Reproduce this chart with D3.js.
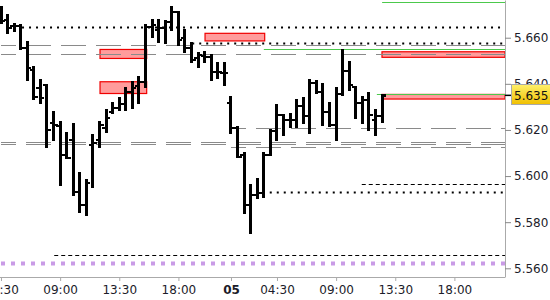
<!DOCTYPE html>
<html>
<head>
<meta charset="utf-8">
<script src="https://cdn.jsdelivr.net/npm/d3@7"></script>
<style>
  html, body { margin: 0; padding: 0; background: #fff; overflow: hidden; }
  svg { display: block; font-family: "DejaVu Sans", sans-serif; }
</style>
</head>
<body>
<div id="chart"></div>
<script>
// 30 minute OHLC bars, one per slot (slot 0 = 04:30 on the 4th, slot 35 = first bar of the 5th)
let opens = [
  5.6720, 5.6676, 5.6650, 5.6650, 5.6555, 5.6459, 5.6381, 5.6394, 5.6230, 5.6217,
  5.6091, 5.6156, 5.5930, 5.5874, 5.6134, 5.6156, 5.6208, 5.6277, 5.6295, 5.6312,
  5.6364, 5.6390, 5.6407, 5.6646, 5.6633, 5.6642, 5.6668, 5.6711, 5.6598, 5.6555,
  5.6512, 5.6520, 5.6516, 5.6451, 5.6446,
  5.6316, 5.6208, 5.6091, 5.5874, 5.5917, 5.5926, 5.6091, 5.6195, 5.6264, 5.6243,
  5.6243, 5.6303, 5.6260, 5.6403, 5.6364, 5.6277, 5.6221, 5.6355, 5.6455, 5.6386,
  5.6316, 5.6329, 5.6243, 5.6260],
highs = [
  5.6733, 5.6698, 5.6659, 5.6655, 5.6581, 5.6472, 5.6416, 5.6394, 5.6277, 5.6234,
  5.6186, 5.6225, 5.6013, 5.5982, 5.6178, 5.6234, 5.6286, 5.6316, 5.6338, 5.6381,
  5.6407, 5.6429, 5.6655, 5.6676, 5.6676, 5.6672, 5.6733, 5.6711, 5.6633, 5.6577,
  5.6533, 5.6538, 5.6525, 5.6490, 5.6490,
  5.6342, 5.6212, 5.6099, 5.5961, 5.5987, 5.6099, 5.6199, 5.6308, 5.6264, 5.6269,
  5.6329, 5.6338, 5.6416, 5.6412, 5.6399, 5.6316, 5.6381, 5.6546, 5.6494, 5.6386,
  5.6342, 5.6360, 5.6286, 5.6351],
lows = [
  5.6663, 5.6620, 5.6629, 5.6551, 5.6416, 5.6334, 5.6316, 5.6126, 5.6156, 5.5961,
  5.6078, 5.5917, 5.5844, 5.5831, 5.5952, 5.6126, 5.6191, 5.6273, 5.6286, 5.6286,
  5.6295, 5.6316, 5.6386, 5.6603, 5.6581, 5.6577, 5.6633, 5.6568, 5.6538, 5.6494,
  5.6472, 5.6494, 5.6416, 5.6425, 5.6394,
  5.6186, 5.6082, 5.5839, 5.5753, 5.5904, 5.5909, 5.6091, 5.6156, 5.6178, 5.6212,
  5.6212, 5.6230, 5.6186, 5.6360, 5.6221, 5.6217, 5.6156, 5.6351, 5.6373, 5.6251,
  5.6230, 5.6199, 5.6178, 5.6234],
closes = [
  5.6672, 5.6642, 5.6650, 5.6555, 5.6468, 5.6342, 5.6338, 5.6199, 5.6221, 5.6091,
  5.6078, 5.5930, 5.5874, 5.5969, 5.6143, 5.6221, 5.6251, 5.6295, 5.6312, 5.6364,
  5.6381, 5.6407, 5.6646, 5.6655, 5.6642, 5.6668, 5.6711, 5.6590, 5.6555, 5.6503,
  5.6525, 5.6516, 5.6451, 5.6451, 5.6446,
  5.6208, 5.6082, 5.5874, 5.5917, 5.5926, 5.6091, 5.6195, 5.6264, 5.6243, 5.6243,
  5.6303, 5.6260, 5.6403, 5.6364, 5.6277, 5.6221, 5.6355, 5.6455, 5.6394, 5.6316,
  5.6329, 5.6264, 5.6260, 5.6350];

// time axis labels: [slot, text]
let timeTicks = [[0, '04:30'], [9, '09:00'], [18, '13:30'], [27, '18:00'],
  [42, '04:30'], [51, '09:00'], [60, '13:30'], [69, '18:00']],
dayTicks = [[35, '05']],
priceTicks = [5.56, 5.58, 5.60, 5.62, 5.64, 5.66],
lastPrice = 5.635;

// horizontal levels: price and first slot
let dottedLevels = [[5.6648, 3.2], [5.6578, 29.1], [5.5932, 40.9]],
greenLevels = [[5.6553, 40.0], [5.6754, 58.0], [5.6358, 57.2]],
greyLevels = [[5.6568, 0], [5.6529, 0], [5.6210, 35], [5.6146, 0], [5.6137, 0], [5.6124, 35]],
dashedLevels = [[5.5657, 8.1], [5.5964, 54.9]],
pivotLevels = [[5.5624, 0]],
// zones: from slot, to slot, top price, bottom price
zones = [
  [15.07, 22.17, 5.6549, 5.6510],
  [15.07, 22.17, 5.6409, 5.6358],
  [31.05, 40.13, 5.6619, 5.6586],
  [57.98, 76.7, 5.6539, 5.6515],
  [57.98, 76.7, 5.6354, 5.6334]];

let w = 550, h = 300,
plotR = 505, plotB = 277,
lastSlot = 76.7,

x = d3.scaleLinear().domain([0, lastSlot]).range([1, plotR]),
y = d3.scaleLinear().domain([5.55623, 5.67635]).range([plotB, 0]),

svg = d3.select('#chart').append('svg').
attr('width', w).
attr('height', h),

defs = svg.append('defs');

defs.append('clipPath').attr('id', 'clip').
append('rect').attr('width', plotR).attr('height', plotB);

let grad = defs.append('linearGradient').attr('id', 'gold').
attr('x1', 0).attr('y1', 0).attr('x2', 0).attr('y2', 1);
grad.append('stop').attr('offset', '0%').attr('stop-color', '#fff06a');
grad.append('stop').attr('offset', '100%').attr('stop-color', '#f0bf00');

let plot = svg.append('g').attr('clip-path', 'url(#clip)');

// zones behind everything
plot.selectAll('rect.zone').
data(zones).
enter().
append('rect').
attr('class', 'zone').
attr('x', d => x(d[0])).
attr('width', d => x(d[1]) - x(d[0])).
attr('y', d => y(d[2])).
attr('height', d => y(d[3]) - y(d[2])).
attr('fill', '#ff9c9c').
attr('stroke', '#f00000').
attr('stroke-width', 1.2);

// draw a group of horizontal levels
function levels(data, color, width, dash, offset) {
  plot.append('g').selectAll('line').
  data(data).
  enter().
  append('line').
  attr('x1', d => x(d[1])).
  attr('x2', plotR).
  attr('y1', d => Math.round(y(d[0])) + 0.5).
  attr('y2', d => Math.round(y(d[0])) + 0.5).
  attr('stroke', color).
  attr('stroke-width', width).
  attr('stroke-dasharray', dash).
  attr('stroke-dashoffset', offset || 0);
}

levels(pivotLevels, '#c99be6', 4, '4,6');
levels(greyLevels, '#8a8a8a', 1, '25,10', 10);
levels(dashedLevels, '#000', 1, '4,3');
levels(dottedLevels, '#000', 2, '2,5');
levels(greenLevels, '#4cc94c', 1, null);

// OHLC bars
let bars = d3.range(opens.length).map(i => ({
  i: i, o: opens[i], h: highs[i], l: lows[i], c: closes[i] })),

barGrps = plot.selectAll('g.bar').
data(bars).
enter().
append('g').
attr('class', 'bar').
attr('stroke', '#000').
attr('shape-rendering', 'crispEdges');

barGrps.append('line').
attr('x1', d => x(d.i)).attr('x2', d => x(d.i)).
attr('y1', d => y(d.h) - 1).attr('y2', d => y(d.l) + 1).
attr('stroke-width', 3);

barGrps.append('line').
attr('x1', d => x(d.i) - 4).attr('x2', d => x(d.i)).
attr('y1', d => y(d.o)).attr('y2', d => y(d.o)).
attr('stroke-width', 2.5);

barGrps.append('line').
attr('x1', d => x(d.i)).attr('x2', d => x(d.i) + 4).
attr('y1', d => y(d.c)).attr('y2', d => y(d.c)).
attr('stroke-width', 2.5);

// price axis on the right
let yAxis = svg.append('g').
attr('transform', 'translate(' + plotR + ',0)').
call(d3.axisRight(y).
tickValues(priceTicks).
tickFormat(d3.format('.3f')).
tickSize(6).
tickSizeOuter(0).
tickPadding(3));

yAxis.select('.domain').attr('stroke', '#aaa');
yAxis.selectAll('.tick line').attr('stroke', '#888');
yAxis.selectAll('text').
attr('fill', '#1c1c2a').
style('font-size', '12px').
style('font-family', '"DejaVu Sans", sans-serif');

// time axis along the bottom
let tickMap = new Map(timeTicks.concat(dayTicks)),
dayMap = new Map(dayTicks),

xAxis = svg.append('g').
attr('transform', 'translate(0,' + plotB + ')').
call(d3.axisBottom(x).
tickValues(Array.from(tickMap.keys())).
tickFormat(d => tickMap.get(d)).
tickSize(4).
tickSizeOuter(0).
tickPadding(4.5));

xAxis.select('.domain').attr('stroke', '#aaa').attr('d', 'M-1,0.5H' + plotR);
xAxis.selectAll('.tick line').attr('stroke', '#aaa');
xAxis.selectAll('text').
attr('fill', '#1c1c2a').
style('font-size', '12px').
style('font-family', '"DejaVu Sans", sans-serif').
style('font-weight', d => dayMap.has(d) ? 'bold' : 'normal');

// last price marker
let yLast = y(lastPrice);

svg.append('line').
attr('x1', plotR).attr('x2', plotR + 6).
attr('y1', yLast).attr('y2', yLast).
attr('stroke', '#000').attr('stroke-width', 1.5);

svg.append('rect').
attr('x', plotR + 6.5).attr('y', Math.round(yLast) - 10.5).
attr('width', 40).attr('height', 20).
attr('fill', 'url(#gold)').
attr('stroke', '#a8a8a8');

svg.append('text').
attr('x', plotR + 9).attr('y', yLast).attr('dy', '0.35em').
attr('fill', '#111').
style('font-size', '12px').
text(d3.format('.3f')(lastPrice));
</script>
</body>
</html>
